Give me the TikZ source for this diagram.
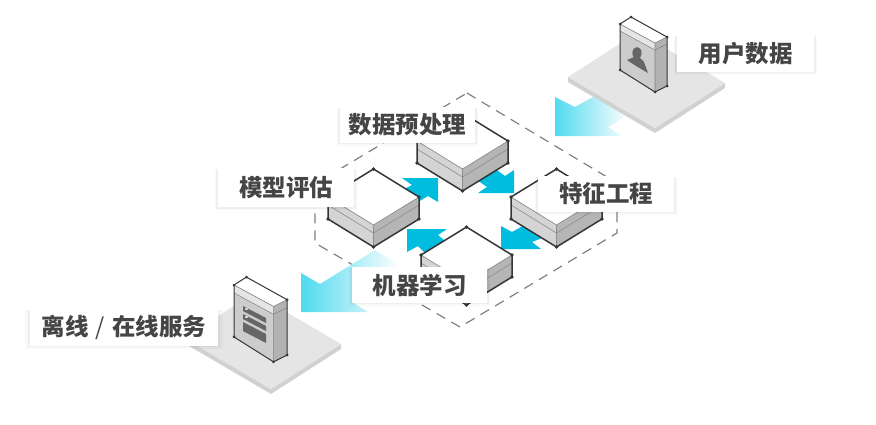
\documentclass[tikz,border=0pt]{standalone}
\usepackage{fontspec}
\usetikzlibrary{shadows}
\newfontfamily\cjkfont{Noto Sans CJK SC}
\definecolor{flowcyan}{HTML}{00BDE0}
\definecolor{fadecyan}{HTML}{4FDAEE}
\definecolor{edgedark}{HTML}{333638}
\definecolor{labeltext}{HTML}{454545}
\tikzset{
	labelbox/.style={fill=white,inner sep=0pt,font=\cjkfont\bfseries\fontsize{23.5}{25}\selectfont,text=labeltext,
		general shadow={fill=black,opacity=.025,shadow xshift=0pt,shadow yshift=-2pt,shadow scale=1.05},
		general shadow={fill=black,opacity=.04,shadow xshift=0pt,shadow yshift=-1pt,shadow scale=1.025}},
	dot/.style={fill=edgedark,circle,inner sep=0pt,minimum size=3.6pt},
	isobox/.pic={
		\fill[white] (0,0) -- (45.5,-28) -- (91,0) -- (45.5,28) -- cycle;
		\fill[black!17] (0,0) -- (45.5,28) -- (45.5,50) -- (0,22) -- cycle;
		\fill[black!29] (91,0) -- (45.5,28) -- (45.5,50) -- (91,22) -- cycle;
		\draw[black!45,line width=.6pt] (0,8) -- (45.5,36) -- (91,8);
		\draw[black!45,line width=.7pt] (0,0) -- (45.5,28) -- (91,0) (45.5,28) -- (45.5,50);
		\draw[edgedark,line width=1.5pt] (91,0) -- (45.5,-28) -- (0,0) -- (0,22) -- (45.5,50) -- (91,22) -- cycle;
		\foreach \cx/\cy in {0/0,45.5/-28,91/0,0/22,45.5/50,91/22}
			\node[dot] at (\cx,\cy) {};
	},
	slab/.pic={
		\fill[black!18] (0,0) -- (87,51) -- (157,6) -- (157,11) -- (87,56) -- (0,5) -- cycle;
		\fill[black!10] (0,0) -- (70,-45) -- (157,6) -- (87,51) -- cycle;
	},
	tower/.pic={
		\fill[white] (0,0) -- (11,-7) -- (47,13) -- (35,19) -- cycle;
		\fill[black!20] (0,0) -- (35,19) -- (35,68) -- (0,46) -- cycle;
		\fill[black!30] (47,13) -- (35,19) -- (35,68) -- (47,62) -- cycle;
		\fill[black!10] (0,0) -- (35,19) -- (35,26) -- (0,7) -- cycle;
		\draw[black!50,line width=.5pt] (0,7) -- (35,26) -- (47,20);
		\draw[edgedark,line width=1pt] (0,0) -- (11,-7) -- (47,13) -- (47,62) -- (35,68) -- (0,46) -- cycle;
		\draw[black!50,line width=.6pt] (0,0) -- (35,19) -- (47,13) (35,19) -- (35,68);
		\foreach \cx/\cy in {0/0,11/-7,47/13,47/62,35/68,0/46}
			\node[dot,minimum size=3pt] at (\cx,\cy) {};
	}
}

\begin{document}
\begin{tikzpicture}[x=1pt,y=-1pt]
	\useasboundingbox (0,0) rectangle (876,424);
	% dashed frame
	\draw[black!50,dash pattern=on 10pt off 7pt,line width=1.2pt] (467,93) -- (617,183) -- (617,233) -- (460,327) -- (315,243) -- (315,184) -- cycle;
	% large arrows
	\shade[left color=fadecyan,right color=white] (555,97) -- (575,107) -- (593,97) -- (628,115) -- (608,127) -- (622,136) -- (555,136) -- cycle;
	\shade[left color=fadecyan,right color=white] (301,273) -- (320,284) -- (375,250) -- (400,265) -- (352,302) -- (368,312) -- (301,312) -- cycle;
	% small arrows
	\fill[flowcyan] (402,178) -- (438,178) -- (438,202) -- (428,196) -- (405,210) -- (390,196) -- (412,185) -- cycle;
	\fill[flowcyan] (514,170) -- (514,193) -- (478,193) -- (487,187) -- (470,175) -- (490,165) -- (505,176) -- cycle;
	\fill[flowcyan] (501,226) -- (512,232) -- (530,222) -- (550,235) -- (532,242) -- (541,249) -- (501,249) -- cycle;
	\fill[flowcyan] (407,229) -- (447,229) -- (438,235) -- (450,245) -- (430,258) -- (418,246) -- (407,252) -- cycle;
	% boxes
	\foreach \bx/\by in {417/141,328/197,511/197,421/255}
		\pic at (\bx,\by) {isobox};
	% platforms and servers
	\pic at (568,77) {slab};
	\pic at (184,338) {slab};
	\pic at (620,24) {tower};
	\pic[scale=1.13] at (234,285) {tower};
	% user icon
	\fill[black!60] (637,53) ellipse (4.6pt and 6pt);
	\fill[black!60] (627,60) -- (634,57) -- (640,58) -- (644,62) -- (648,73) -- (636,66) -- cycle;
	% list icon
	\fill[black!60] (243,306) -- (266,318) -- (266,323) -- (243,311) -- cycle;
	\fill[black!60] (243,314) -- (266,326) -- (266,331) -- (243,319) -- cycle;
	\fill[black!60] (243,322) -- (266,334) -- (266,343) -- (243,331) -- cycle;
	\fill[black!20] (245,308) rectangle (248,310);
	\fill[black!20] (245,316) rectangle (248,318);
	% labels
	\node[labelbox,minimum width=137pt,minimum height=37pt] (userdata) at (745.5,53.5) {用户数据};
	\node[labelbox,minimum width=135pt,minimum height=36pt] (preprocess) at (407.5,125) {数据预处理};
	\node[labelbox,minimum width=136pt,minimum height=39pt] (evaluate) at (286,187.5) {模型评估};
	\node[labelbox,minimum width=136pt,minimum height=36pt] (feature) at (606,194) {特征工程};
	\node[labelbox,minimum width=135pt,minimum height=36pt] (learning) at (419.5,285) {机器学习};
	\node[labelbox,minimum width=188pt,minimum height=37pt] (serving) at (124,327.5) {离线\hspace{7pt}{\mdseries /}\hspace{7pt}在线服务};
\end{tikzpicture}
\end{document}
